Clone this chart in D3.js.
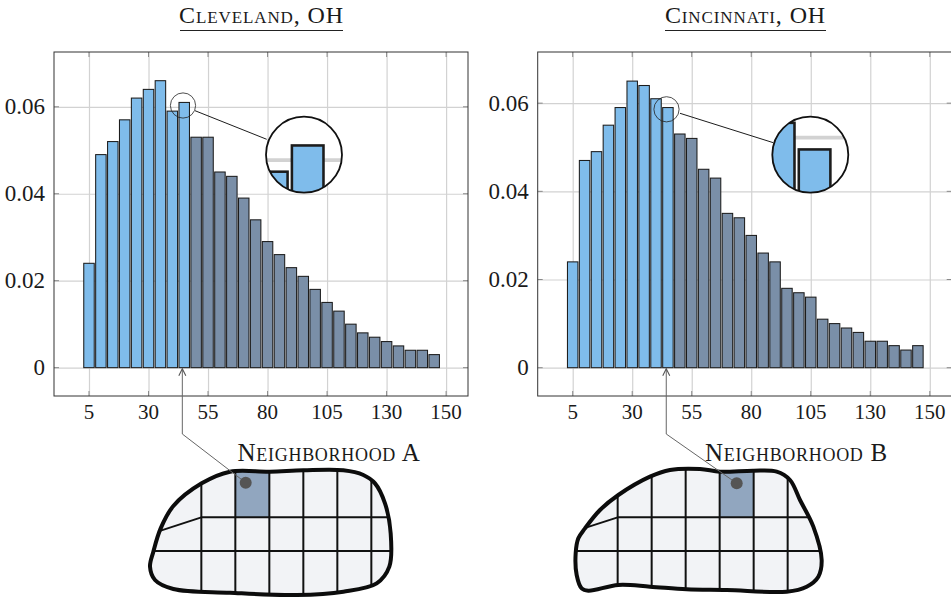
<!DOCTYPE html>
<html>
<head>
<meta charset="utf-8">
<script src="https://d3js.org/d3.v7.min.js"></script>
<style>
  html, body { margin: 0; padding: 0; background: #fff; overflow: hidden; }
  svg { display: block; }
  text { font-family: "Liberation Serif", serif; fill: #1a1a1a; }
  .caps { font-variant: small-caps; }
</style>
</head>
<body>
<div id="chart"></div>
<script>
// bar values
var bins = [5,10,15,20,25,30,35,40,45,50,55,60,65,70,75,80,85,90,95,100,105,110,115,120,125,130,135,140,145,150];
var cleveland = [0.024,0.049,0.052,0.057,0.062,0.064,0.066,0.059,0.061,0.053,0.053,0.045,0.044,0.039,0.034,0.029,0.026,0.023,0.021,0.018,0.015,0.013,0.010,0.008,0.007,0.006,0.005,0.004,0.004,0.003];
var cincinnati = [0.024,0.047,0.049,0.055,0.059,0.065,0.064,0.061,0.059,0.053,0.052,0.045,0.043,0.035,0.034,0.030,0.026,0.024,0.018,0.017,0.016,0.011,0.010,0.009,0.008,0.006,0.006,0.005,0.004,0.005];

// the last tick sits one step further than its printed label, same as the original
var xTicks = [5,30,55,80,105,130,155];
var xTickLabels = ["5","30","55","80","105","130","150"];
var yTicks = [0,0.02,0.04,0.06];
var lastBlueBin = 45;

// map outlines, in the sketch's own units
var outlineA = [[300,155],[420,155],[520,151],[640,151],[700,165],[735,190],[765,250],[782,340],[778,440],[740,490],[640,515],[500,525],[300,518],[130,507],[75,480],[60,440],[70,395],[92,325],[130,258],[215,190]];
var outlineB = [[75,325],[120,270],[175,225],[270,170],[330,150],[420,147],[480,155],[580,152],[650,155],[690,180],[720,240],[760,320],[785,420],[775,470],[740,500],[680,515],[500,510],[380,508],[270,500],[175,495],[85,512],[65,505],[50,465],[47,400],[55,355]];

var W = 951, H = 597;
var blue = "#7fbceb", slate = "#7a8fa8";

var svg = d3.select("#chart").append("svg").attr("width", W).attr("height", H);
var defs = svg.append("defs");

var xDomain = [-9.7, 164.2];

// grid and bars, used for the plot and again for the magnifier
function drawBars(g, x, y, values, barStroke) {
	g.append("g").attr("transform", "translate(0,396)")
		.call(d3.axisBottom(x).tickValues(xTicks).tickSize(52 - 396).tickFormat(""));
	g.append("g").attr("transform", "translate(" + x.range()[0] + ",0)")
		.call(d3.axisLeft(y).tickValues(yTicks).tickSize(x.range()[0] - x.range()[1]).tickFormat(""));
	g.selectAll(".domain").remove();
	g.selectAll(".tick line").attr("stroke", "#d2d2d2").attr("stroke-width", 1.2);

	g.selectAll("rect.bar")
		.data(values)
		.enter()
		.append("rect")
		.attr("class", "bar")
		.attr("x", function(d, i) { return x(bins[i] - 2.2); })
		.attr("y", function(d) { return y(d); })
		.attr("width", x(4.4) - x(0))
		.attr("height", function(d) { return y(0) - y(d); })
		.attr("fill", function(d, i) { return bins[i] <= lastBlueBin ? blue : slate; })
		.attr("stroke", "#1c1c1c")
		.attr("stroke-width", barStroke);
}

function panel(opt) {
	var x = d3.scaleLinear().domain(xDomain).range([opt.left, opt.left + 414]);
	var y = d3.scaleLinear().domain(opt.yDomain).range([396, 52]);
	var g = svg.append("g");

	drawBars(g.append("g"), x, y, opt.values, 1.05);

	// short tick marks on all four sides
	var marks = g.append("g").attr("stroke", "#8a8a8a").attr("stroke-width", 1);
	xTicks.forEach(function(t) {
		marks.append("line").attr("x1", x(t)).attr("x2", x(t)).attr("y1", 52).attr("y2", 57);
		marks.append("line").attr("x1", x(t)).attr("x2", x(t)).attr("y1", 396).attr("y2", 391);
	});
	yTicks.forEach(function(t) {
		marks.append("line").attr("y1", y(t)).attr("y2", y(t)).attr("x1", opt.left).attr("x2", opt.left + 5);
		marks.append("line").attr("y1", y(t)).attr("y2", y(t)).attr("x1", opt.left + 414).attr("x2", opt.left + 409);
	});

	g.append("rect").attr("x", opt.left).attr("y", 52).attr("width", 414).attr("height", 344)
		.attr("fill", "none").attr("stroke", "#333").attr("stroke-width", 1);

	// tick labels
	g.selectAll("text.xl").data(xTicks).enter().append("text")
		.attr("class", "xl")
		.attr("x", function(d) { return x(d); })
		.attr("y", 419)
		.attr("text-anchor", "middle")
		.attr("font-size", 21)
		.text(function(d, i) { return xTickLabels[i]; });
	g.selectAll("text.yl").data(yTicks).enter().append("text")
		.attr("class", "yl")
		.attr("x", opt.left - 9)
		.attr("y", function(d) { return y(d) + 7.5; })
		.attr("text-anchor", "end")
		.attr("font-size", 23)
		.text(function(d) { return d === 0 ? "0" : d3.format(".2f")(d); });

	// title
	svg.append("text").attr("class", "caps")
		.attr("x", opt.titleX).attr("y", 23)
		.attr("text-anchor", "middle").attr("font-size", 24)
		.attr("letter-spacing", 0.9)
		.text(opt.title);
	svg.append("line")
		.attr("x1", opt.titleX - opt.titleW / 2).attr("x2", opt.titleX + opt.titleW / 2)
		.attr("y1", 30.5).attr("y2", 30.5)
		.attr("stroke", "#222").attr("stroke-width", 1);

	// magnifier
	var s = opt.small, b = opt.big, k = b.r / s.r;
	svg.append("line").attr("x1", opt.link[0]).attr("y1", opt.link[1]).attr("x2", opt.link[2]).attr("y2", opt.link[3])
		.attr("stroke", "#1c1c1c").attr("stroke-width", 1);
	var clipId = "lens" + opt.id;
	defs.append("clipPath").attr("id", clipId).append("circle").attr("cx", b.x).attr("cy", b.y).attr("r", b.r);
	svg.append("circle").attr("cx", b.x).attr("cy", b.y).attr("r", b.r).attr("fill", "#fff");
	var lens = svg.append("g").attr("clip-path", "url(#" + clipId + ")").append("g")
		.attr("transform", "translate(" + b.x + "," + b.y + ") scale(" + k + ") translate(" + (-s.x) + "," + (-s.y) + ")");
	drawBars(lens, x, y, opt.values, 0.85);
	svg.append("circle").attr("cx", b.x).attr("cy", b.y).attr("r", b.r)
		.attr("fill", "none").attr("stroke", "#111").attr("stroke-width", 1.8);
	svg.append("circle").attr("cx", s.x).attr("cy", s.y).attr("r", s.r)
		.attr("fill", "none").attr("stroke", "#222").attr("stroke-width", 0.8);

	// sketch of the city grid
	var mx = d3.scaleLinear().domain([0, 300]).range([opt.mapLeft, opt.mapLeft + 100]);
	var my = d3.scaleLinear().domain([0, 300]).range([420, 520]);
	var outlinePath = d3.line().x(function(d) { return mx(d[0]); }).y(function(d) { return my(d[1]); })
		.curve(d3.curveCatmullRomClosed.alpha(0.5))(opt.outline);
	var mapId = "map" + opt.id;
	defs.append("clipPath").attr("id", mapId).append("path").attr("d", outlinePath);

	svg.append("path").attr("d", outlinePath).attr("fill", "#f2f3f6");
	var inside = svg.append("g").attr("clip-path", "url(#" + mapId + ")");
	var cols = opt.cols;
	inside.append("rect")
		.attr("x", mx(cols[opt.hot])).attr("y", my(100))
		.attr("width", mx(cols[opt.hot + 1]) - mx(cols[opt.hot])).attr("height", my(292) - my(100))
		.attr("fill", "#91a6bf");
	cols.forEach(function(c) {
		inside.append("line").attr("x1", mx(c)).attr("x2", mx(c)).attr("y1", my(100)).attr("y2", my(560))
			.attr("stroke", "#111").attr("stroke-width", 2);
	});
	inside.append("line").attr("x1", mx(cols[0])).attr("x2", mx(900)).attr("y1", my(292)).attr("y2", my(292))
		.attr("stroke", "#111").attr("stroke-width", 2);
	inside.append("line").attr("x1", mx(0)).attr("x2", mx(900)).attr("y1", my(393)).attr("y2", my(393))
		.attr("stroke", "#111").attr("stroke-width", 2);
	inside.append("line").attr("x1", mx(opt.slant[0])).attr("y1", my(opt.slant[1])).attr("x2", mx(cols[0])).attr("y2", my(292))
		.attr("stroke", "#111").attr("stroke-width", 2);
	svg.append("path").attr("d", outlinePath).attr("fill", "none")
		.attr("stroke", "#0c0c0c").attr("stroke-width", 4).attr("stroke-linejoin", "round");

	// arrow from the city grid up to the histogram
	var ax = x(opt.arrowBin);
	svg.append("path")
		.attr("d", d3.line()([[opt.dot[0], opt.dot[1]], [ax, 434], [ax, y(0) + 1]]))
		.attr("fill", "none").attr("stroke", "#666").attr("stroke-width", 1);
	svg.append("path")
		.attr("d", d3.line()([[ax - 3.5, y(0) + 8], [ax, y(0) + 1], [ax + 3.5, y(0) + 8]]))
		.attr("fill", "none").attr("stroke", "#555").attr("stroke-width", 1.1);
	svg.append("circle").attr("cx", opt.dot[0]).attr("cy", opt.dot[1]).attr("r", 6).attr("fill", "#555");

	svg.append("text").attr("class", "caps")
		.attr("x", opt.labelX).attr("y", 461)
		.attr("text-anchor", "middle").attr("font-size", 25)
		.attr("letter-spacing", 0.7)
		.text(opt.label);
}

panel({
	id: "A", left: 54, values: cleveland, yDomain: [-0.00652, 0.0726],
	title: "Cleveland, OH", titleX: 261.5, titleW: 163,
	small: {x: 183, y: 105.5, r: 12.6}, big: {x: 304, y: 154.7, r: 38},
	link: [195, 110.7, 266.7, 139.3],
	outline: outlineA, mapLeft: 130, cols: [214,316,418,520,622,724], hot: 1, slant: [92,332],
	dot: [245.7, 482.7], arrowBin: 44.2,
	label: "Neighborhood A", labelX: 329
});

panel({
	id: "B", left: 537.7, values: cincinnati, yDomain: [-0.00642, 0.0716],
	title: "Cincinnati, OH", titleX: 745.5, titleW: 161,
	small: {x: 666.5, y: 109.3, r: 12.6}, big: {x: 810.3, y: 154.7, r: 38},
	link: [680, 113.3, 773.3, 142.7],
	outline: outlineB, mapLeft: 560, cols: [173,275,377,479,581,683], hot: 3, slant: [80,322],
	dot: [736.7, 483.3], arrowBin: 44.3,
	label: "Neighborhood B", labelX: 796.5
});
</script>
</body>
</html>
